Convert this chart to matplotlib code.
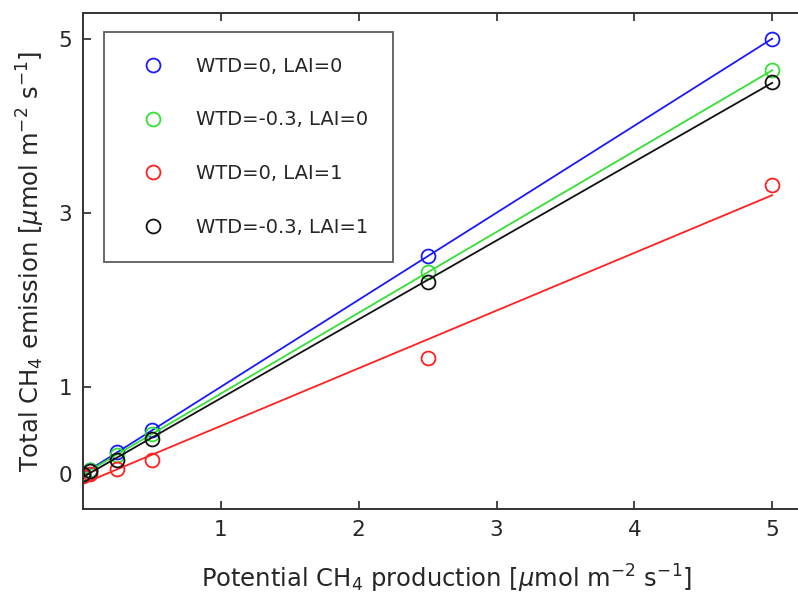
import numpy as np
import matplotlib.pyplot as plt

# potential production (x) and total emission (y) for the four runs
production = [0, 0.05, 0.25, 0.5, 2.5, 5]
emis_wtd0_lai0 = [0, 0.05, 0.25, 0.51, 2.51, 5.0]
emis_wtd03_lai0 = [0, 0.05, 0.22, 0.46, 2.32, 4.64]
emis_wtd0_lai1 = [-0.02, 0.0, 0.06, 0.16, 1.33, 3.32]
emis_wtd03_lai1 = [0, 0.04, 0.16, 0.40, 2.21, 4.51]

labels = ['WTD=0, LAI=0', 'WTD=-0.3, LAI=0', 'WTD=0, LAI=1', 'WTD=-0.3, LAI=1']
colors = ['#1a1aff', '#33e033', '#ff2020', '#111111']

txt = '#262626'
plt.rcParams['font.family'] = 'DejaVu Sans'
plt.rcParams['mathtext.fontset'] = 'dejavusans'

fig = plt.figure(figsize=(7.98, 5.97), dpi=100)
ax = fig.add_axes([0.104, 0.1474, 0.912, 0.831])

x = np.array(production)
series = [emis_wtd0_lai0, emis_wtd03_lai0, emis_wtd0_lai1, emis_wtd03_lai1]
for y, lab, c in zip(series, labels, colors):
    ax.plot(x, y, 'o', mfc='none', mec=c, ms=10, mew=1.3, label=lab)
    # least-squares line through each run
    k, b = np.polyfit(x, y, 1)
    xx = np.array([0, 5])
    ax.plot(xx, k * xx + b, '-', color=c, lw=1.3)

ax.set_xlim(0, 5.28)
ax.set_ylim(-0.4, 5.3)
ax.set_xticks([1, 2, 3, 4, 5])
ax.set_yticks([0, 1, 3, 5])
ax.tick_params(direction='in', length=6, width=1.2, top=True,
               labelsize=15.5, colors=txt, pad=8)
ax.spines['right'].set_visible(False)
for s in ax.spines.values():
    s.set_color('#333333')
    s.set_linewidth(1.4)

ax.set_xlabel(r'Potential CH$_4$ production [$\mu$mol m$^{-2}$ s$^{-1}$]',
              fontsize=17.5, color=txt, labelpad=16)
ax.set_ylabel(r'Total CH$_4$ emission [$\mu$mol m$^{-2}$ s$^{-1}$]',
              fontsize=17.5, color=txt, labelpad=8)

handles, labs = ax.get_legend_handles_labels()
leg = ax.legend(handles, labs, loc='upper left', bbox_to_anchor=(0.015, 0.982),
                fontsize=14, frameon=True, fancybox=False, borderpad=1.3,
                labelspacing=1.78, handletextpad=0.98, handlelength=2.46)
leg.get_frame().set_edgecolor('#333333')
leg.get_frame().set_linewidth(1.3)
for t in leg.get_texts():
    t.set_color(txt)

fig.savefig('out.png', dpi=100)
